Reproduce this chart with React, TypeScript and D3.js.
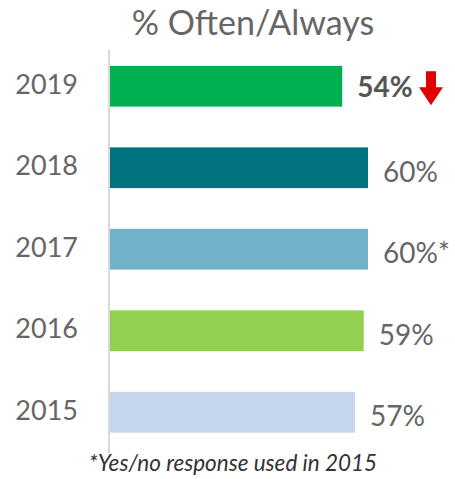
import * as d3 from 'd3'
import { useEffect, useRef } from 'react'

const years = ['2019', '2018', '2017', '2016', '2015']
const values = [54, 60, 60, 59, 57]
const valueLabels = ['54%', '60%', '60%*', '59%', '57%']
const barColors = ['#00B050', '#00737F', '#72B1CA', '#92D050', '#C5D6EC']
const title = '% Often/Always'
const footnote = '*Yes/no response used in 2015'

export default function App() {
	const svgRef = useRef<SVGSVGElement>(null)

	useEffect(() => {
		const svg = d3.select(svgRef.current)
		svg.selectAll('*').remove()
		const font = 'Lato, "Open Sans", sans-serif'

		const x = d3.scaleLinear().domain([0, 100]).range([110, 540])
		const y = d3
			.scaleBand()
			.domain(years)
			.range([45.5, 453])
			.paddingInner(0.5)
			.paddingOuter(0.25)

		svg
			.append('text')
			.attr('x', 253)
			.attr('y', 35)
			.attr('text-anchor', 'middle')
			.attr('font-family', font)
			.attr('font-size', 34)
			.attr('fill', '#666666')
			.text(title)

		// axis line
		svg
			.append('line')
			.attr('x1', 109)
			.attr('x2', 109)
			.attr('y1', 50)
			.attr('y2', 453)
			.attr('stroke', '#D9D9D9')
			.attr('stroke-width', 2)

		svg
			.selectAll('rect.bar')
			.data(values)
			.join('rect')
			.attr('class', 'bar')
			.attr('x', x(0))
			.attr('y', (d, i) => y(years[i]))
			.attr('width', (d) => x(d) - x(0))
			.attr('height', y.bandwidth())
			.attr('fill', (d, i) => barColors[i])

		svg
			.selectAll('text.year')
			.data(years)
			.join('text')
			.attr('class', 'year')
			.attr('x', 78)
			.attr('y', (d) => y(d) + y.bandwidth() / 2 - 2)
			.attr('dy', '0.35em')
			.attr('text-anchor', 'end')
			.attr('font-family', font)
			.attr('font-size', 27)
			.attr('fill', '#666666')
			.text((d) => d)

		svg
			.selectAll('text.val')
			.data(values)
			.join('text')
			.attr('class', 'val')
			.attr('x', (d) => x(d) + 15)
			.attr('y', (d, i) => y(years[i]) + y.bandwidth() / 2 + (i === 0 ? 1 : 4))
			.attr('dy', '0.35em')
			.attr('font-family', font)
			.attr('font-size', 28)
			.attr('font-weight', (d, i) => (i === 0 ? 'bold' : 'normal'))
			.attr('fill', (d, i) => (i === 0 ? '#555555' : '#666666'))
			.text((d, i) => valueLabels[i])

		// red down arrow next to 2019
		const ay = y(years[0]) + y.bandwidth() / 2
		const ax = 431
		svg
			.append('path')
			.attr(
				'd',
				`M${ax - 5},${ay - 15} L${ax + 5},${ay - 15} L${ax + 5},${ay + 1} L${ax + 12},${ay + 1} L${ax},${ay + 19} L${ax - 12},${ay + 1} L${ax - 5},${ay + 1} Z`,
			)
			.attr('fill', '#E00000')

		svg
			.append('text')
			.attr('x', 233)
			.attr('y', 471)
			.attr('text-anchor', 'middle')
			.attr('font-family', font)
			.attr('font-style', 'italic')
			.attr('font-size', 22.5)
			.attr('fill', '#333333')
			.text(footnote)
	}, [])

	return (
		<svg
			ref={svgRef}
			width={455}
			height={479}
			style={{ position: 'absolute', left: 0, top: 0, background: '#fff' }}
		/>
	)
}
